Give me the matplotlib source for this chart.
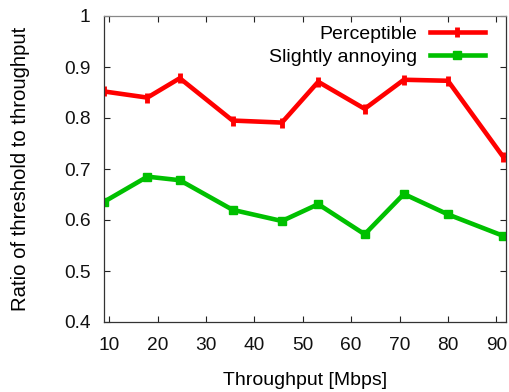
import matplotlib
matplotlib.use("Agg")
import matplotlib.pyplot as plt

plt.rcParams['font.family'] = ['Liberation Sans', 'DejaVu Sans']

throughput = [9.0, 17.9, 24.6, 35.5, 45.7, 53.2, 62.8, 70.9, 80.0, 91.4]
perceptible = [0.852, 0.840, 0.878, 0.795, 0.791, 0.871, 0.818, 0.875, 0.873, 0.724]
slightly_annoying = [0.636, 0.685, 0.678, 0.620, 0.598, 0.631, 0.572, 0.651, 0.611, 0.569]
xticks = [10, 20, 30, 40, 50, 60, 70, 80, 90]
yticks = [0.4, 0.5, 0.6, 0.7, 0.8, 0.9, 1.0]
yticklabels = ["0.4", "0.5", "0.6", "0.7", "0.8", "0.9", "1"]

W, H = 509, 392
L, R, T, B = 104.3, 506, 16, 322
fig = plt.figure(figsize=(W/100, H/100), dpi=100)
ax = fig.add_axes([L/W, 1-B/H, (R-L)/W, (B-T)/H])

ax.plot(throughput, perceptible, color='#ff0000', lw=3.3, marker='|', ms=7, mew=3.5,
        label='Perceptible')
ax.plot(throughput, slightly_annoying, color='#00c000', lw=3.3, marker='s', ms=5.5,
        label='Slightly annoying')

ax.set_xlim(throughput[0], 92)
ax.set_ylim(0.4, 1.0)
ax.set_xticks(xticks)
ax.set_yticks(yticks)
ax.set_yticklabels(yticklabels)
ax.tick_params(direction='in', top=True, right=True, length=4, width=0.8,
               labelsize=13.8, colors='#222222', labelcolor='#111111')
ax.tick_params(axis='y', pad=10)
ax.tick_params(axis='x', pad=11)
for s in ax.spines.values():
    s.set_color('#333333')
    s.set_linewidth(0.9)
ax.spines['top'].set_color('#888888')

ax.set_xlabel('Throughput [Mbps]', fontsize=14)
ax.set_ylabel('Ratio of threshold to throughput', fontsize=14.6)
ax.xaxis.set_label_coords(0.5, (B-372)/(B-T))
ax.yaxis.set_label_coords((30-L)/(R-L), 0.5)

leg = ax.legend(loc='upper right', frameon=False, markerfirst=False, fontsize=14,
                handlelength=2.85, handletextpad=0.65, labelspacing=0.3,
                borderaxespad=0, borderpad=0, numpoints=1,
                bbox_to_anchor=((485-L)/(R-L), 1-(25-T)/(B-T)))

fig.savefig('out.png', dpi=100)
